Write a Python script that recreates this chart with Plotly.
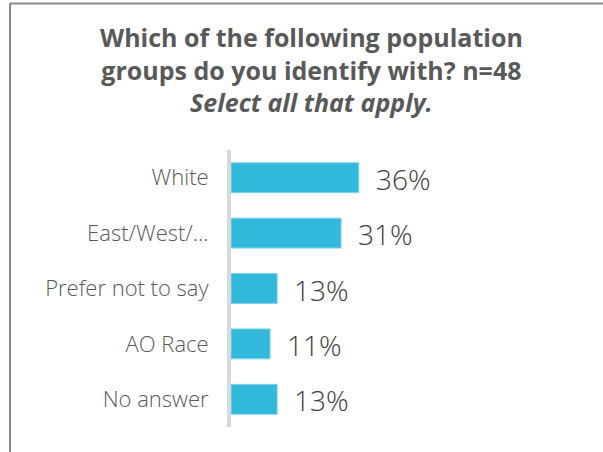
import plotly.graph_objects as go

# Survey responses: share of respondents identifying with each group (n=48)
categories = ["White", "East/West/…", "Prefer not to say", "AO Race", "No answer"]
values = [36, 31, 13, 11, 13]
value_labels = [f"{v}%" for v in values]

title_lines = [
    "<b>Which of the following population</b>",
    "<b>groups do you identify with? n=48</b>",
    "<b><i>Select all that apply.</i></b>",
]

bar_color = "#31b9dc"
label_color = "#595959"
value_color = "#404040"

# Plot area geometry (pixels)
plot_top, plot_h, plot_left, plot_w = 150, 277, 231, 355

fig = go.Figure(
    go.Bar(
        x=values,
        y=categories,
        orientation="h",
        marker=dict(color=bar_color, line=dict(color="#7fd3ea", width=1)),
        width=0.54,
        hoverinfo="skip",
    )
)

# Value labels to the right of each bar
for cat, v, txt in zip(categories, values, value_labels):
    fig.add_annotation(
        x=v, y=cat, text=txt, showarrow=False,
        xanchor="left", yanchor="middle", xshift=15, yshift=-1,
        font=dict(family="Open Sans", size=28, color=value_color, weight=300),
    )

# Title block
fig.add_annotation(
    xref="paper", yref="paper",
    x=(311 - plot_left) / plot_w, y=1 + (plot_top - 70) / plot_h,
    xanchor="center", yanchor="middle", showarrow=False,
    text="<br>".join(title_lines), align="center",
    font=dict(family="Open Sans", size=25, color=label_color),
)

# Outer frame (left and top edges)
frame_x = (10 - plot_left) / plot_w
frame_top = 1 + (plot_top - 3.5) / plot_h
fig.add_shape(type="line", xref="paper", yref="paper",
              x0=frame_x, x1=frame_x, y0=-1, y1=frame_top,
              line=dict(color="#8a8a8a", width=2))
fig.add_shape(type="line", xref="paper", yref="paper",
              x0=frame_x, x1=2, y0=frame_top, y1=frame_top,
              line=dict(color="#8a8a8a", width=2))

fig.update_layout(
    width=603,
    height=452,
    margin=dict(l=plot_left, r=603 - plot_left - plot_w, t=plot_top, b=452 - plot_top - plot_h),
    paper_bgcolor="white",
    plot_bgcolor="white",
    showlegend=False,
    xaxis=dict(range=[0, 100], visible=False, fixedrange=True),
    yaxis=dict(
        autorange="reversed",
        showline=True, linecolor="#d9d9d9", linewidth=4,
        showgrid=False, zeroline=False, ticks="",
        ticklabelstandoff=14,
        tickfont=dict(family="Open Sans", size=22, color=label_color, weight=300),
    ),
)

fig.write_html("out.html")
